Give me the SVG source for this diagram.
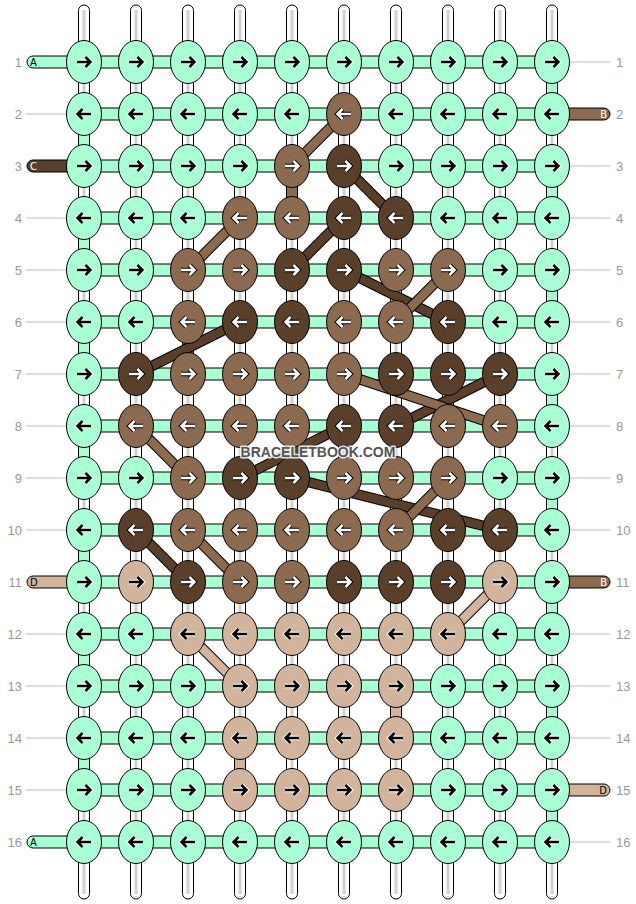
<svg xmlns="http://www.w3.org/2000/svg" xmlns:xlink="http://www.w3.org/1999/xlink" width="636" height="904" viewBox="0 0 636 904">
<style>
.m{fill:#a8ffd4}.b{fill:#8c6a50}.c{fill:#5a3f2a}.d{fill:#d2b49c}
.vs{fill:#fff;stroke:#000;stroke-width:1}
.vl{stroke:#d0d0d0;stroke-width:3}
.hb{stroke:#000;stroke-width:1}
.vc{stroke:#000;stroke-width:1}
.bo{stroke:#000;stroke-width:10.5;fill:none}
.bb{stroke:#8c6a50;stroke-width:8.5;fill:none}
.bc{stroke:#5a3f2a;stroke-width:8.5;fill:none}
.bd{stroke:#d2b49c;stroke-width:8.5;fill:none}
.pill{stroke:#000;stroke-width:1}
.gl{stroke:#bbb;stroke-width:1}
.num{font-family:"Liberation Sans",Arial,sans-serif;font-size:13px;fill:#999}
.lt{font-family:"DejaVu Sans","Liberation Sans",sans-serif;font-size:10px}
.wm{font-family:"Liberation Sans",Arial,sans-serif;font-size:14px;font-weight:bold;fill:#555;stroke:#fff;stroke-opacity:0.85;stroke-width:3px;paint-order:stroke;stroke-linejoin:round}
</style>
<defs>
<ellipse id="kn" cx="0" cy="0" rx="17.5" ry="21.5" stroke="#000" stroke-width="1"/>
<g id="rk" fill="none"><path d="M-7,0H5.5M1.5,-5L6.5,0L1.5,5" stroke="#fff" stroke-width="4.5"/><path d="M-7,0H5.5M1.5,-5L6.5,0L1.5,5" stroke="#000" stroke-width="2.5"/></g>
<g id="rw" fill="none"><path d="M-7,0H5.5M1.5,-5L6.5,0L1.5,5" stroke="#000" stroke-width="4.5"/><path d="M-7,0H5.5M1.5,-5L6.5,0L1.5,5" stroke="#fff" stroke-width="2.5"/></g>
<g id="lk" fill="none"><path d="M7,0H-5.5M-1.5,-5L-6.5,0L-1.5,5" stroke="#fff" stroke-width="4.5"/><path d="M7,0H-5.5M-1.5,-5L-6.5,0L-1.5,5" stroke="#000" stroke-width="2.5"/></g>
<g id="lw" fill="none"><path d="M7,0H-5.5M-1.5,-5L-6.5,0L-1.5,5" stroke="#000" stroke-width="4.5"/><path d="M7,0H-5.5M-1.5,-5L-6.5,0L-1.5,5" stroke="#fff" stroke-width="2.5"/></g>
</defs>
<rect width="636" height="904" fill="#fff"/>
<g id="labels">
<text class="num" x="22" y="67" text-anchor="end">1</text><text class="num" x="616" y="67">1</text>
<text class="num" x="22" y="119" text-anchor="end">2</text><text class="num" x="616" y="119">2</text>
<text class="num" x="22" y="171" text-anchor="end">3</text><text class="num" x="616" y="171">3</text>
<text class="num" x="22" y="223" text-anchor="end">4</text><text class="num" x="616" y="223">4</text>
<text class="num" x="22" y="275" text-anchor="end">5</text><text class="num" x="616" y="275">5</text>
<text class="num" x="22" y="327" text-anchor="end">6</text><text class="num" x="616" y="327">6</text>
<text class="num" x="22" y="379" text-anchor="end">7</text><text class="num" x="616" y="379">7</text>
<text class="num" x="22" y="431" text-anchor="end">8</text><text class="num" x="616" y="431">8</text>
<text class="num" x="22" y="483" text-anchor="end">9</text><text class="num" x="616" y="483">9</text>
<text class="num" x="22" y="535" text-anchor="end">10</text><text class="num" x="616" y="535">10</text>
<text class="num" x="22" y="587" text-anchor="end">11</text><text class="num" x="616" y="587">11</text>
<text class="num" x="22" y="639" text-anchor="end">12</text><text class="num" x="616" y="639">12</text>
<text class="num" x="22" y="691" text-anchor="end">13</text><text class="num" x="616" y="691">13</text>
<text class="num" x="22" y="743" text-anchor="end">14</text><text class="num" x="616" y="743">14</text>
<text class="num" x="22" y="795" text-anchor="end">15</text><text class="num" x="616" y="795">15</text>
<text class="num" x="22" y="847" text-anchor="end">16</text><text class="num" x="616" y="847">16</text>
</g>
<g id="connectors">
<g id="guides">
<path class="gl" d="M26,114H66M26,218H66M26,270H66M26,322H66M26,374H66M26,426H66M26,478H66M26,530H66M26,634H66M26,686H66M26,738H66M26,790H66"/>
<path class="gl" d="M570,62H610M570,166H610M570,218H610M570,270H610M570,322H610M570,374H610M570,426H610M570,478H610M570,530H610M570,634H610M570,686H610M570,738H610M570,842H610"/>
</g>
<g id="strings">
<rect class="vs" x="78.5" y="5" width="11" height="894" rx="5.5"/>
<rect class="vs" x="130.5" y="5" width="11" height="894" rx="5.5"/>
<rect class="vs" x="182.5" y="5" width="11" height="894" rx="5.5"/>
<rect class="vs" x="234.5" y="5" width="11" height="894" rx="5.5"/>
<rect class="vs" x="286.5" y="5" width="11" height="894" rx="5.5"/>
<rect class="vs" x="338.5" y="5" width="11" height="894" rx="5.5"/>
<rect class="vs" x="390.5" y="5" width="11" height="894" rx="5.5"/>
<rect class="vs" x="442.5" y="5" width="11" height="894" rx="5.5"/>
<rect class="vs" x="494.5" y="5" width="11" height="894" rx="5.5"/>
<rect class="vs" x="546.5" y="5" width="11" height="894" rx="5.5"/>
<path class="vl" d="M84,10V894M136,10V894M188,10V894M240,10V894M292,10V894M344,10V894M396,10V894M448,10V894M500,10V894M552,10V894"/>
</g>
<g id="rows">
<rect class="hb m" x="84" y="56" width="468" height="12"/>
<rect class="hb m" x="84" y="108" width="468" height="12"/>
<rect class="hb m" x="84" y="160" width="468" height="12"/>
<rect class="hb m" x="84" y="212" width="468" height="12"/>
<rect class="hb m" x="84" y="264" width="468" height="12"/>
<rect class="hb m" x="84" y="316" width="468" height="12"/>
<rect class="hb m" x="84" y="368" width="468" height="12"/>
<rect class="hb m" x="84" y="420" width="468" height="12"/>
<rect class="hb m" x="84" y="472" width="468" height="12"/>
<rect class="hb m" x="84" y="524" width="468" height="12"/>
<rect class="hb m" x="84" y="576" width="468" height="12"/>
<rect class="hb m" x="84" y="628" width="468" height="12"/>
<rect class="hb m" x="84" y="680" width="468" height="12"/>
<rect class="hb m" x="84" y="732" width="468" height="12"/>
<rect class="hb m" x="84" y="784" width="468" height="12"/>
<rect class="hb m" x="84" y="836" width="468" height="12"/>
</g>
<g id="turns">
<rect class="vc m" x="546.5" y="80" width="11" height="16"/>
<rect class="vc m" x="78.5" y="132" width="11" height="16"/>
<rect class="vc m" x="546.5" y="184" width="11" height="16"/>
<rect class="vc m" x="78.5" y="236" width="11" height="16"/>
<rect class="vc m" x="546.5" y="288" width="11" height="16"/>
<rect class="vc m" x="78.5" y="340" width="11" height="16"/>
<rect class="vc m" x="546.5" y="392" width="11" height="16"/>
<rect class="vc m" x="78.5" y="444" width="11" height="16"/>
<rect class="vc m" x="546.5" y="496" width="11" height="16"/>
<rect class="vc m" x="78.5" y="548" width="11" height="16"/>
<rect class="vc m" x="546.5" y="600" width="11" height="16"/>
<rect class="vc m" x="78.5" y="652" width="11" height="16"/>
<rect class="vc m" x="546.5" y="704" width="11" height="16"/>
<rect class="vc m" x="78.5" y="756" width="11" height="16"/>
<rect class="vc m" x="546.5" y="808" width="11" height="16"/>
<rect class="vc b" x="286.5" y="184" width="11" height="16"/>
<rect class="vc b" x="182.5" y="340" width="11" height="16"/>
<rect class="vc d" x="390.5" y="704" width="11" height="16"/>
<rect class="vc d" x="234.5" y="756" width="11" height="16"/>
</g>
<g id="bands">
<path class="bo" d="M344,166L396,218M344,218L292,270M344,270L448,322M240,322L136,374M500,374L396,426M344,426L240,478M292,478L500,530M136,530L188,582"/>
<path class="bc" d="M344,166L396,218M344,218L292,270M344,270L448,322M240,322L136,374M500,374L396,426M344,426L240,478M292,478L500,530M136,530L188,582"/>
<path class="bo" d="M344,114L292,166M240,218L188,270M448,270L396,322M344,374L500,426M136,426L188,478M448,478L396,530M188,530L240,582"/>
<path class="bb" d="M344,114L292,166M240,218L188,270M448,270L396,322M344,374L500,426M136,426L188,478M448,478L396,530M188,530L240,582"/>
<path class="bo" d="M500,582L448,634M188,634L240,686"/>
<path class="bd" d="M500,582L448,634M188,634L240,686"/>
</g>
<g id="threads">
<path class="pill m" d="M84,56H33A6,6 0 0 0 33,68H84Z"/><text class="lt" x="30" y="66" fill="#000">A</text>
<path class="pill c" d="M84,160H33A6,6 0 0 0 33,172H84Z"/><text class="lt" x="30" y="170" fill="#fff">C</text>
<path class="pill d" d="M84,576H33A6,6 0 0 0 33,588H84Z"/><text class="lt" x="30" y="586" fill="#000">D</text>
<path class="pill m" d="M84,836H33A6,6 0 0 0 33,848H84Z"/><text class="lt" x="30" y="846" fill="#000">A</text>
<path class="pill b" d="M552,108H604A6,6 0 0 1 604,120H552Z"/><text class="lt" x="607" y="118" text-anchor="end" fill="#fff">B</text>
<path class="pill b" d="M552,576H604A6,6 0 0 1 604,588H552Z"/><text class="lt" x="607" y="586" text-anchor="end" fill="#fff">B</text>
<path class="pill d" d="M552,784H604A6,6 0 0 1 604,796H552Z"/><text class="lt" x="607" y="794" text-anchor="end" fill="#000">D</text>
</g>
</g>
<g id="knots">
<g id="r1">
<g id="k1-1"><use href="#kn" x="84" y="62" class="m"/><use href="#rk" x="84" y="62"/></g>
<g id="k1-2"><use href="#kn" x="136" y="62" class="m"/><use href="#rk" x="136" y="62"/></g>
<g id="k1-3"><use href="#kn" x="188" y="62" class="m"/><use href="#rk" x="188" y="62"/></g>
<g id="k1-4"><use href="#kn" x="240" y="62" class="m"/><use href="#rk" x="240" y="62"/></g>
<g id="k1-5"><use href="#kn" x="292" y="62" class="m"/><use href="#rk" x="292" y="62"/></g>
<g id="k1-6"><use href="#kn" x="344" y="62" class="m"/><use href="#rk" x="344" y="62"/></g>
<g id="k1-7"><use href="#kn" x="396" y="62" class="m"/><use href="#rk" x="396" y="62"/></g>
<g id="k1-8"><use href="#kn" x="448" y="62" class="m"/><use href="#rk" x="448" y="62"/></g>
<g id="k1-9"><use href="#kn" x="500" y="62" class="m"/><use href="#rk" x="500" y="62"/></g>
<g id="k1-10"><use href="#kn" x="552" y="62" class="m"/><use href="#rk" x="552" y="62"/></g>
</g>
<g id="r2">
<g id="k2-1"><use href="#kn" x="84" y="114" class="m"/><use href="#lk" x="84" y="114"/></g>
<g id="k2-2"><use href="#kn" x="136" y="114" class="m"/><use href="#lk" x="136" y="114"/></g>
<g id="k2-3"><use href="#kn" x="188" y="114" class="m"/><use href="#lk" x="188" y="114"/></g>
<g id="k2-4"><use href="#kn" x="240" y="114" class="m"/><use href="#lk" x="240" y="114"/></g>
<g id="k2-5"><use href="#kn" x="292" y="114" class="m"/><use href="#lk" x="292" y="114"/></g>
<g id="k2-6"><use href="#kn" x="344" y="114" class="b"/><use href="#lw" x="344" y="114"/></g>
<g id="k2-7"><use href="#kn" x="396" y="114" class="m"/><use href="#lk" x="396" y="114"/></g>
<g id="k2-8"><use href="#kn" x="448" y="114" class="m"/><use href="#lk" x="448" y="114"/></g>
<g id="k2-9"><use href="#kn" x="500" y="114" class="m"/><use href="#lk" x="500" y="114"/></g>
<g id="k2-10"><use href="#kn" x="552" y="114" class="m"/><use href="#lk" x="552" y="114"/></g>
</g>
<g id="r3">
<g id="k3-1"><use href="#kn" x="84" y="166" class="m"/><use href="#rk" x="84" y="166"/></g>
<g id="k3-2"><use href="#kn" x="136" y="166" class="m"/><use href="#rk" x="136" y="166"/></g>
<g id="k3-3"><use href="#kn" x="188" y="166" class="m"/><use href="#rk" x="188" y="166"/></g>
<g id="k3-4"><use href="#kn" x="240" y="166" class="m"/><use href="#rk" x="240" y="166"/></g>
<g id="k3-5"><use href="#kn" x="292" y="166" class="b"/><use href="#rw" x="292" y="166"/></g>
<g id="k3-6"><use href="#kn" x="344" y="166" class="c"/><use href="#rw" x="344" y="166"/></g>
<g id="k3-7"><use href="#kn" x="396" y="166" class="m"/><use href="#rk" x="396" y="166"/></g>
<g id="k3-8"><use href="#kn" x="448" y="166" class="m"/><use href="#rk" x="448" y="166"/></g>
<g id="k3-9"><use href="#kn" x="500" y="166" class="m"/><use href="#rk" x="500" y="166"/></g>
<g id="k3-10"><use href="#kn" x="552" y="166" class="m"/><use href="#rk" x="552" y="166"/></g>
</g>
<g id="r4">
<g id="k4-1"><use href="#kn" x="84" y="218" class="m"/><use href="#lk" x="84" y="218"/></g>
<g id="k4-2"><use href="#kn" x="136" y="218" class="m"/><use href="#lk" x="136" y="218"/></g>
<g id="k4-3"><use href="#kn" x="188" y="218" class="m"/><use href="#lk" x="188" y="218"/></g>
<g id="k4-4"><use href="#kn" x="240" y="218" class="b"/><use href="#lw" x="240" y="218"/></g>
<g id="k4-5"><use href="#kn" x="292" y="218" class="b"/><use href="#lw" x="292" y="218"/></g>
<g id="k4-6"><use href="#kn" x="344" y="218" class="c"/><use href="#lw" x="344" y="218"/></g>
<g id="k4-7"><use href="#kn" x="396" y="218" class="c"/><use href="#lw" x="396" y="218"/></g>
<g id="k4-8"><use href="#kn" x="448" y="218" class="m"/><use href="#lk" x="448" y="218"/></g>
<g id="k4-9"><use href="#kn" x="500" y="218" class="m"/><use href="#lk" x="500" y="218"/></g>
<g id="k4-10"><use href="#kn" x="552" y="218" class="m"/><use href="#lk" x="552" y="218"/></g>
</g>
<g id="r5">
<g id="k5-1"><use href="#kn" x="84" y="270" class="m"/><use href="#rk" x="84" y="270"/></g>
<g id="k5-2"><use href="#kn" x="136" y="270" class="m"/><use href="#rk" x="136" y="270"/></g>
<g id="k5-3"><use href="#kn" x="188" y="270" class="b"/><use href="#rw" x="188" y="270"/></g>
<g id="k5-4"><use href="#kn" x="240" y="270" class="b"/><use href="#rw" x="240" y="270"/></g>
<g id="k5-5"><use href="#kn" x="292" y="270" class="c"/><use href="#rw" x="292" y="270"/></g>
<g id="k5-6"><use href="#kn" x="344" y="270" class="c"/><use href="#rw" x="344" y="270"/></g>
<g id="k5-7"><use href="#kn" x="396" y="270" class="b"/><use href="#rw" x="396" y="270"/></g>
<g id="k5-8"><use href="#kn" x="448" y="270" class="b"/><use href="#rw" x="448" y="270"/></g>
<g id="k5-9"><use href="#kn" x="500" y="270" class="m"/><use href="#rk" x="500" y="270"/></g>
<g id="k5-10"><use href="#kn" x="552" y="270" class="m"/><use href="#rk" x="552" y="270"/></g>
</g>
<g id="r6">
<g id="k6-1"><use href="#kn" x="84" y="322" class="m"/><use href="#lk" x="84" y="322"/></g>
<g id="k6-2"><use href="#kn" x="136" y="322" class="m"/><use href="#lk" x="136" y="322"/></g>
<g id="k6-3"><use href="#kn" x="188" y="322" class="b"/><use href="#lw" x="188" y="322"/></g>
<g id="k6-4"><use href="#kn" x="240" y="322" class="c"/><use href="#lw" x="240" y="322"/></g>
<g id="k6-5"><use href="#kn" x="292" y="322" class="c"/><use href="#lw" x="292" y="322"/></g>
<g id="k6-6"><use href="#kn" x="344" y="322" class="b"/><use href="#lw" x="344" y="322"/></g>
<g id="k6-7"><use href="#kn" x="396" y="322" class="b"/><use href="#lw" x="396" y="322"/></g>
<g id="k6-8"><use href="#kn" x="448" y="322" class="c"/><use href="#lw" x="448" y="322"/></g>
<g id="k6-9"><use href="#kn" x="500" y="322" class="m"/><use href="#lk" x="500" y="322"/></g>
<g id="k6-10"><use href="#kn" x="552" y="322" class="m"/><use href="#lk" x="552" y="322"/></g>
</g>
<g id="r7">
<g id="k7-1"><use href="#kn" x="84" y="374" class="m"/><use href="#rk" x="84" y="374"/></g>
<g id="k7-2"><use href="#kn" x="136" y="374" class="c"/><use href="#rw" x="136" y="374"/></g>
<g id="k7-3"><use href="#kn" x="188" y="374" class="b"/><use href="#rw" x="188" y="374"/></g>
<g id="k7-4"><use href="#kn" x="240" y="374" class="b"/><use href="#rw" x="240" y="374"/></g>
<g id="k7-5"><use href="#kn" x="292" y="374" class="b"/><use href="#rw" x="292" y="374"/></g>
<g id="k7-6"><use href="#kn" x="344" y="374" class="b"/><use href="#rw" x="344" y="374"/></g>
<g id="k7-7"><use href="#kn" x="396" y="374" class="c"/><use href="#rw" x="396" y="374"/></g>
<g id="k7-8"><use href="#kn" x="448" y="374" class="c"/><use href="#rw" x="448" y="374"/></g>
<g id="k7-9"><use href="#kn" x="500" y="374" class="c"/><use href="#rw" x="500" y="374"/></g>
<g id="k7-10"><use href="#kn" x="552" y="374" class="m"/><use href="#rk" x="552" y="374"/></g>
</g>
<g id="r8">
<g id="k8-1"><use href="#kn" x="84" y="426" class="m"/><use href="#lk" x="84" y="426"/></g>
<g id="k8-2"><use href="#kn" x="136" y="426" class="b"/><use href="#lw" x="136" y="426"/></g>
<g id="k8-3"><use href="#kn" x="188" y="426" class="b"/><use href="#lw" x="188" y="426"/></g>
<g id="k8-4"><use href="#kn" x="240" y="426" class="b"/><use href="#lw" x="240" y="426"/></g>
<g id="k8-5"><use href="#kn" x="292" y="426" class="b"/><use href="#lw" x="292" y="426"/></g>
<g id="k8-6"><use href="#kn" x="344" y="426" class="c"/><use href="#lw" x="344" y="426"/></g>
<g id="k8-7"><use href="#kn" x="396" y="426" class="c"/><use href="#lw" x="396" y="426"/></g>
<g id="k8-8"><use href="#kn" x="448" y="426" class="b"/><use href="#lw" x="448" y="426"/></g>
<g id="k8-9"><use href="#kn" x="500" y="426" class="b"/><use href="#lw" x="500" y="426"/></g>
<g id="k8-10"><use href="#kn" x="552" y="426" class="m"/><use href="#lk" x="552" y="426"/></g>
</g>
<g id="r9">
<g id="k9-1"><use href="#kn" x="84" y="478" class="m"/><use href="#rk" x="84" y="478"/></g>
<g id="k9-2"><use href="#kn" x="136" y="478" class="m"/><use href="#rk" x="136" y="478"/></g>
<g id="k9-3"><use href="#kn" x="188" y="478" class="b"/><use href="#rw" x="188" y="478"/></g>
<g id="k9-4"><use href="#kn" x="240" y="478" class="c"/><use href="#rw" x="240" y="478"/></g>
<g id="k9-5"><use href="#kn" x="292" y="478" class="c"/><use href="#rw" x="292" y="478"/></g>
<g id="k9-6"><use href="#kn" x="344" y="478" class="b"/><use href="#rw" x="344" y="478"/></g>
<g id="k9-7"><use href="#kn" x="396" y="478" class="b"/><use href="#rw" x="396" y="478"/></g>
<g id="k9-8"><use href="#kn" x="448" y="478" class="b"/><use href="#rw" x="448" y="478"/></g>
<g id="k9-9"><use href="#kn" x="500" y="478" class="m"/><use href="#rk" x="500" y="478"/></g>
<g id="k9-10"><use href="#kn" x="552" y="478" class="m"/><use href="#rk" x="552" y="478"/></g>
</g>
<g id="r10">
<g id="k10-1"><use href="#kn" x="84" y="530" class="m"/><use href="#lk" x="84" y="530"/></g>
<g id="k10-2"><use href="#kn" x="136" y="530" class="c"/><use href="#lw" x="136" y="530"/></g>
<g id="k10-3"><use href="#kn" x="188" y="530" class="b"/><use href="#lw" x="188" y="530"/></g>
<g id="k10-4"><use href="#kn" x="240" y="530" class="b"/><use href="#lw" x="240" y="530"/></g>
<g id="k10-5"><use href="#kn" x="292" y="530" class="b"/><use href="#lw" x="292" y="530"/></g>
<g id="k10-6"><use href="#kn" x="344" y="530" class="b"/><use href="#lw" x="344" y="530"/></g>
<g id="k10-7"><use href="#kn" x="396" y="530" class="b"/><use href="#lw" x="396" y="530"/></g>
<g id="k10-8"><use href="#kn" x="448" y="530" class="c"/><use href="#lw" x="448" y="530"/></g>
<g id="k10-9"><use href="#kn" x="500" y="530" class="c"/><use href="#lw" x="500" y="530"/></g>
<g id="k10-10"><use href="#kn" x="552" y="530" class="m"/><use href="#lk" x="552" y="530"/></g>
</g>
<g id="r11">
<g id="k11-1"><use href="#kn" x="84" y="582" class="m"/><use href="#rk" x="84" y="582"/></g>
<g id="k11-2"><use href="#kn" x="136" y="582" class="d"/><use href="#rk" x="136" y="582"/></g>
<g id="k11-3"><use href="#kn" x="188" y="582" class="c"/><use href="#rw" x="188" y="582"/></g>
<g id="k11-4"><use href="#kn" x="240" y="582" class="b"/><use href="#rw" x="240" y="582"/></g>
<g id="k11-5"><use href="#kn" x="292" y="582" class="b"/><use href="#rw" x="292" y="582"/></g>
<g id="k11-6"><use href="#kn" x="344" y="582" class="c"/><use href="#rw" x="344" y="582"/></g>
<g id="k11-7"><use href="#kn" x="396" y="582" class="c"/><use href="#rw" x="396" y="582"/></g>
<g id="k11-8"><use href="#kn" x="448" y="582" class="c"/><use href="#rw" x="448" y="582"/></g>
<g id="k11-9"><use href="#kn" x="500" y="582" class="d"/><use href="#rk" x="500" y="582"/></g>
<g id="k11-10"><use href="#kn" x="552" y="582" class="m"/><use href="#rk" x="552" y="582"/></g>
</g>
<g id="r12">
<g id="k12-1"><use href="#kn" x="84" y="634" class="m"/><use href="#lk" x="84" y="634"/></g>
<g id="k12-2"><use href="#kn" x="136" y="634" class="m"/><use href="#lk" x="136" y="634"/></g>
<g id="k12-3"><use href="#kn" x="188" y="634" class="d"/><use href="#lk" x="188" y="634"/></g>
<g id="k12-4"><use href="#kn" x="240" y="634" class="d"/><use href="#lk" x="240" y="634"/></g>
<g id="k12-5"><use href="#kn" x="292" y="634" class="d"/><use href="#lk" x="292" y="634"/></g>
<g id="k12-6"><use href="#kn" x="344" y="634" class="d"/><use href="#lk" x="344" y="634"/></g>
<g id="k12-7"><use href="#kn" x="396" y="634" class="d"/><use href="#lk" x="396" y="634"/></g>
<g id="k12-8"><use href="#kn" x="448" y="634" class="d"/><use href="#lk" x="448" y="634"/></g>
<g id="k12-9"><use href="#kn" x="500" y="634" class="m"/><use href="#lk" x="500" y="634"/></g>
<g id="k12-10"><use href="#kn" x="552" y="634" class="m"/><use href="#lk" x="552" y="634"/></g>
</g>
<g id="r13">
<g id="k13-1"><use href="#kn" x="84" y="686" class="m"/><use href="#rk" x="84" y="686"/></g>
<g id="k13-2"><use href="#kn" x="136" y="686" class="m"/><use href="#rk" x="136" y="686"/></g>
<g id="k13-3"><use href="#kn" x="188" y="686" class="m"/><use href="#rk" x="188" y="686"/></g>
<g id="k13-4"><use href="#kn" x="240" y="686" class="d"/><use href="#rk" x="240" y="686"/></g>
<g id="k13-5"><use href="#kn" x="292" y="686" class="d"/><use href="#rk" x="292" y="686"/></g>
<g id="k13-6"><use href="#kn" x="344" y="686" class="d"/><use href="#rk" x="344" y="686"/></g>
<g id="k13-7"><use href="#kn" x="396" y="686" class="d"/><use href="#rk" x="396" y="686"/></g>
<g id="k13-8"><use href="#kn" x="448" y="686" class="m"/><use href="#rk" x="448" y="686"/></g>
<g id="k13-9"><use href="#kn" x="500" y="686" class="m"/><use href="#rk" x="500" y="686"/></g>
<g id="k13-10"><use href="#kn" x="552" y="686" class="m"/><use href="#rk" x="552" y="686"/></g>
</g>
<g id="r14">
<g id="k14-1"><use href="#kn" x="84" y="738" class="m"/><use href="#lk" x="84" y="738"/></g>
<g id="k14-2"><use href="#kn" x="136" y="738" class="m"/><use href="#lk" x="136" y="738"/></g>
<g id="k14-3"><use href="#kn" x="188" y="738" class="m"/><use href="#lk" x="188" y="738"/></g>
<g id="k14-4"><use href="#kn" x="240" y="738" class="d"/><use href="#lk" x="240" y="738"/></g>
<g id="k14-5"><use href="#kn" x="292" y="738" class="d"/><use href="#lk" x="292" y="738"/></g>
<g id="k14-6"><use href="#kn" x="344" y="738" class="d"/><use href="#lk" x="344" y="738"/></g>
<g id="k14-7"><use href="#kn" x="396" y="738" class="d"/><use href="#lk" x="396" y="738"/></g>
<g id="k14-8"><use href="#kn" x="448" y="738" class="m"/><use href="#lk" x="448" y="738"/></g>
<g id="k14-9"><use href="#kn" x="500" y="738" class="m"/><use href="#lk" x="500" y="738"/></g>
<g id="k14-10"><use href="#kn" x="552" y="738" class="m"/><use href="#lk" x="552" y="738"/></g>
</g>
<g id="r15">
<g id="k15-1"><use href="#kn" x="84" y="790" class="m"/><use href="#rk" x="84" y="790"/></g>
<g id="k15-2"><use href="#kn" x="136" y="790" class="m"/><use href="#rk" x="136" y="790"/></g>
<g id="k15-3"><use href="#kn" x="188" y="790" class="m"/><use href="#rk" x="188" y="790"/></g>
<g id="k15-4"><use href="#kn" x="240" y="790" class="d"/><use href="#rk" x="240" y="790"/></g>
<g id="k15-5"><use href="#kn" x="292" y="790" class="d"/><use href="#rk" x="292" y="790"/></g>
<g id="k15-6"><use href="#kn" x="344" y="790" class="d"/><use href="#rk" x="344" y="790"/></g>
<g id="k15-7"><use href="#kn" x="396" y="790" class="d"/><use href="#rk" x="396" y="790"/></g>
<g id="k15-8"><use href="#kn" x="448" y="790" class="m"/><use href="#rk" x="448" y="790"/></g>
<g id="k15-9"><use href="#kn" x="500" y="790" class="m"/><use href="#rk" x="500" y="790"/></g>
<g id="k15-10"><use href="#kn" x="552" y="790" class="m"/><use href="#rk" x="552" y="790"/></g>
</g>
<g id="r16">
<g id="k16-1"><use href="#kn" x="84" y="842" class="m"/><use href="#lk" x="84" y="842"/></g>
<g id="k16-2"><use href="#kn" x="136" y="842" class="m"/><use href="#lk" x="136" y="842"/></g>
<g id="k16-3"><use href="#kn" x="188" y="842" class="m"/><use href="#lk" x="188" y="842"/></g>
<g id="k16-4"><use href="#kn" x="240" y="842" class="m"/><use href="#lk" x="240" y="842"/></g>
<g id="k16-5"><use href="#kn" x="292" y="842" class="m"/><use href="#lk" x="292" y="842"/></g>
<g id="k16-6"><use href="#kn" x="344" y="842" class="m"/><use href="#lk" x="344" y="842"/></g>
<g id="k16-7"><use href="#kn" x="396" y="842" class="m"/><use href="#lk" x="396" y="842"/></g>
<g id="k16-8"><use href="#kn" x="448" y="842" class="m"/><use href="#lk" x="448" y="842"/></g>
<g id="k16-9"><use href="#kn" x="500" y="842" class="m"/><use href="#lk" x="500" y="842"/></g>
<g id="k16-10"><use href="#kn" x="552" y="842" class="m"/><use href="#lk" x="552" y="842"/></g>
</g>
</g>
<text class="wm" x="318" y="457" text-anchor="middle">BRACELETBOOK.COM</text>
</svg>
